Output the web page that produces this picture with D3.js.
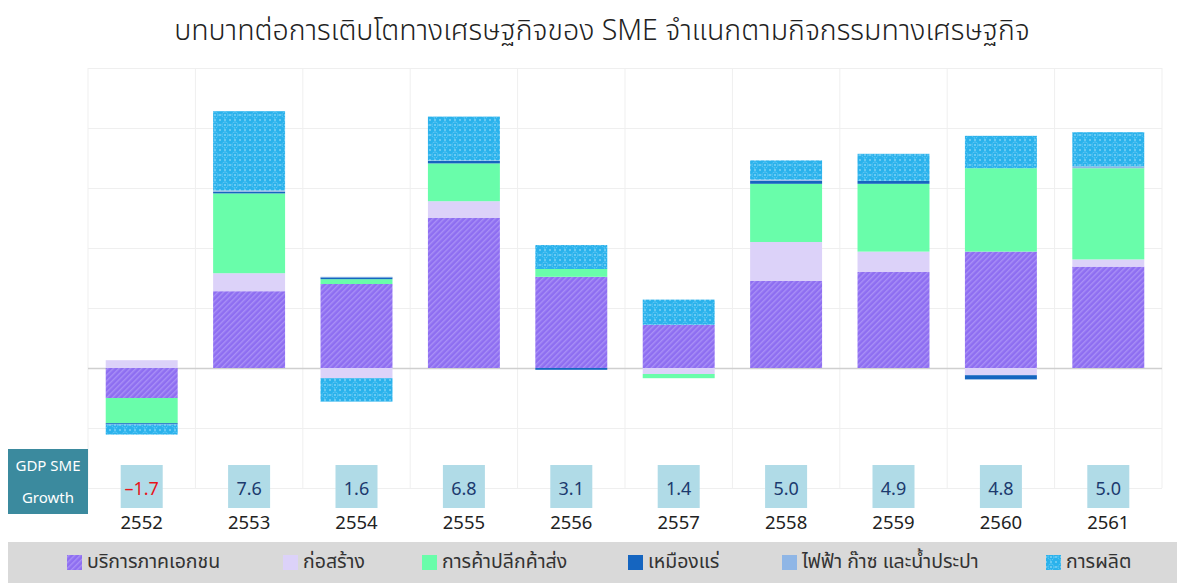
<html>
  <head>
    <meta charset="utf-8">
    <title>SME contribution</title>
    <style>
      body { margin: 0; background: #fff; }
      text { font-family: "Noto Sans Thai", "Tahoma", "Noto Sans", sans-serif; }
    </style>
  </head>
  <body>
    <script src="https://cdn.jsdelivr.net/npm/d3@7"></script>
    <script>
    // ข้อมูล
    var years = ["2552","2553","2554","2555","2556","2557","2558","2559","2560","2561"];
    var seriesNames = ["บริการภาคเอกชน","ก่อสร้าง","การค้าปลีกค้าส่ง","เหมืองแร่","ไฟฟ้า ก๊าซ และน้ำประปา","การผลิต"];
    var service      = [-0.50, 1.28, 1.40, 2.50, 1.52, 0.72, 1.45, 1.60, 1.94, 1.69];
    var construction = [ 0.13, 0.30,-0.17, 0.28, 0.00,-0.10, 0.65, 0.34,-0.12, 0.12];
    var trade        = [-0.42, 1.33, 0.08, 0.63, 0.13,-0.07, 0.97, 1.13, 1.39, 1.52];
    var mining       = [-0.02, 0.03, 0.03, 0.04,-0.03, 0.00, 0.05, 0.05,-0.07, 0.00];
    var electric     = [ 0.00, 0.02, 0.01, 0.01, 0.00, 0.00, 0.02, 0.00, 0.00, 0.03];
    var manufacture  = [-0.17, 1.32,-0.39, 0.73, 0.40, 0.42, 0.32, 0.45, 0.54, 0.57];
    var gdpGrowth    = [-1.7, 7.6, 1.6, 6.8, 3.1, 1.4, 5.0, 4.9, 4.8, 5.0];
    var yTicks = [-2,-1,0,1,2,3,4,5];

    var width = 1177, height = 583;
    var pLeft = 88, pRight = 1162, pTop = 68, pBottom = 488;
    var fills = ["url(#patService)","#dcd2f9","#69fdaa","#1565c0","#8fb6e6","url(#patManu)"];

    var keys = ["service","construction","trade","mining","electric","manufacture"];
    var cols = [service, construction, trade, mining, electric, manufacture];
    var table = years.map(function(y,i){
        var row = {year: y};
        keys.forEach(function(k,j){ row[k] = cols[j][i]; });
        return row;
    });

    var svg = d3.select("body").append("svg")
                .attr("width", width)
                .attr("height", height);

    // ลวดลาย
    var defs = svg.append("defs");
    var p1 = defs.append("pattern").attr("id","patService")
                 .attr("patternUnits","userSpaceOnUse")
                 .attr("width",4).attr("height",4)
                 .attr("patternTransform","rotate(45)");
    p1.append("rect").attr("width",4).attr("height",4).attr("fill","#8e6ef1");
    p1.append("rect").attr("width",1.4).attr("height",4).attr("fill","#a990f6");

    var p2 = defs.append("pattern").attr("id","patManu")
                 .attr("patternUnits","userSpaceOnUse")
                 .attr("width",10).attr("height",10);
    p2.append("rect").attr("width",10).attr("height",10).attr("fill","#2ab2ec");
    p2.append("circle").attr("cx",5).attr("cy",5).attr("r",3)
      .attr("fill","none").attr("stroke","#8ad6f6").attr("stroke-width",0.9)
      .attr("stroke-dasharray","1.2,1");
    [[0,0],[10,0],[0,10],[10,10],[5,5],[5,0],[0,5],[10,5],[5,10]].forEach(function(c){
        p2.append("circle").attr("cx",c[0]).attr("cy",c[1]).attr("r",0.8).attr("fill","#b8e7fb");
    });

    var x = d3.scaleBand().domain(years).range([pLeft, pRight])
              .paddingInner(0.33).paddingOuter(0.165);
    var y = d3.scaleLinear().domain([-2, 5]).range([pBottom, pTop]);

    // เส้นกริด
    var step = x.step();
    svg.selectAll(".vgrid").data(d3.range(years.length + 1)).enter()
       .append("line").attr("class","vgrid")
       .attr("x1", function(i){ return pLeft + i*step; })
       .attr("x2", function(i){ return pLeft + i*step; })
       .attr("y1", pTop).attr("y2", pBottom)
       .attr("stroke","#efefef");
    svg.append("g").attr("transform","translate(" + pLeft + ",0)")
       .call(d3.axisLeft(y).tickValues(yTicks).tickSize(-(pRight-pLeft)).tickFormat(""))
       .call(function(g){
           g.select(".domain").remove();
           g.selectAll("line").attr("stroke", function(d){ return d === 0 ? "#cfcfcf" : "#efefef"; })
            .attr("stroke-width", function(d){ return d === 0 ? 1.5 : 1; });
       });

    // แท่งซ้อน
    var stacked = d3.stack().keys(keys).offset(d3.stackOffsetDiverging)(table);
    svg.selectAll(".layer").data(stacked).enter()
       .append("g").attr("class","layer")
       .attr("fill", function(d,i){ return fills[i]; })
       .selectAll("rect").data(function(d){ return d; }).enter()
       .append("rect")
       .attr("x", function(d){ return x(d.data.year); })
       .attr("width", x.bandwidth())
       .attr("y", function(d){ return y(Math.max(d[0], d[1])); })
       .attr("height", function(d){ return Math.abs(y(d[0]) - y(d[1])); });

    // กล่อง GDP SME Growth
    svg.append("rect").attr("x",8).attr("y",449).attr("width",80).attr("height",65).attr("fill","#3b8a9e");
    svg.append("text").attr("x",48).attr("y",471).attr("text-anchor","middle")
       .attr("fill","#fff").attr("font-size",15).text("GDP SME");
    svg.append("text").attr("x",48).attr("y",503).attr("text-anchor","middle")
       .attr("fill","#fff").attr("font-size",15).text("Growth");

    var lab = svg.selectAll(".gdp").data(gdpGrowth).enter().append("g").attr("class","gdp");
    lab.append("rect")
       .attr("x", function(d,i){ return x(years[i]) + x.bandwidth()/2 - 21; })
       .attr("y",465).attr("width",42).attr("height",43)
       .attr("fill","#b0dbe7");
    lab.append("text")
       .attr("x", function(d,i){ return x(years[i]) + x.bandwidth()/2; })
       .attr("y",495).attr("text-anchor","middle").attr("font-size",18)
       .attr("fill", function(d){ return d < 0 ? "#e8141b" : "#1c3a6e"; })
       .text(function(d){ return d < 0 ? "\u2013" + Math.abs(d).toFixed(1) : d.toFixed(1); });

    svg.selectAll(".year").data(years).enter().append("text")
       .attr("class","year")
       .attr("x", function(d){ return x(d) + x.bandwidth()/2; })
       .attr("y",529).attr("text-anchor","middle").attr("font-size",18.5)
       .attr("fill","#222").text(function(d){ return d; });

    // ชื่อกราฟ
    svg.append("text").attr("x",602).attr("y",40).attr("text-anchor","middle")
       .attr("font-size",28.5).attr("fill","#222").attr("font-weight",300)
       .text("บทบาทต่อการเติบโตทางเศรษฐกิจของ SME จำแนกตามกิจกรรมทางเศรษฐกิจ");

    // คำอธิบาย
    var legendX = [67, 283, 422, 628, 782, 1046];
    svg.append("rect").attr("x",8).attr("y",542).attr("width",1169).attr("height",41).attr("fill","#d9d9d9");
    var lg = svg.selectAll(".lg").data(seriesNames).enter().append("g").attr("class","lg")
                .attr("transform", function(d,i){ return "translate(" + legendX[i] + ",562)"; });
    lg.append("rect").attr("x",0).attr("y",-7).attr("width",15).attr("height",15)
      .attr("fill", function(d,i){ return fills[i]; });
    lg.append("text").attr("x",20).attr("y",6).attr("font-size",19.5).attr("fill","#333")
      .text(function(d){ return d; });
    </script>
  </body>
</html>
